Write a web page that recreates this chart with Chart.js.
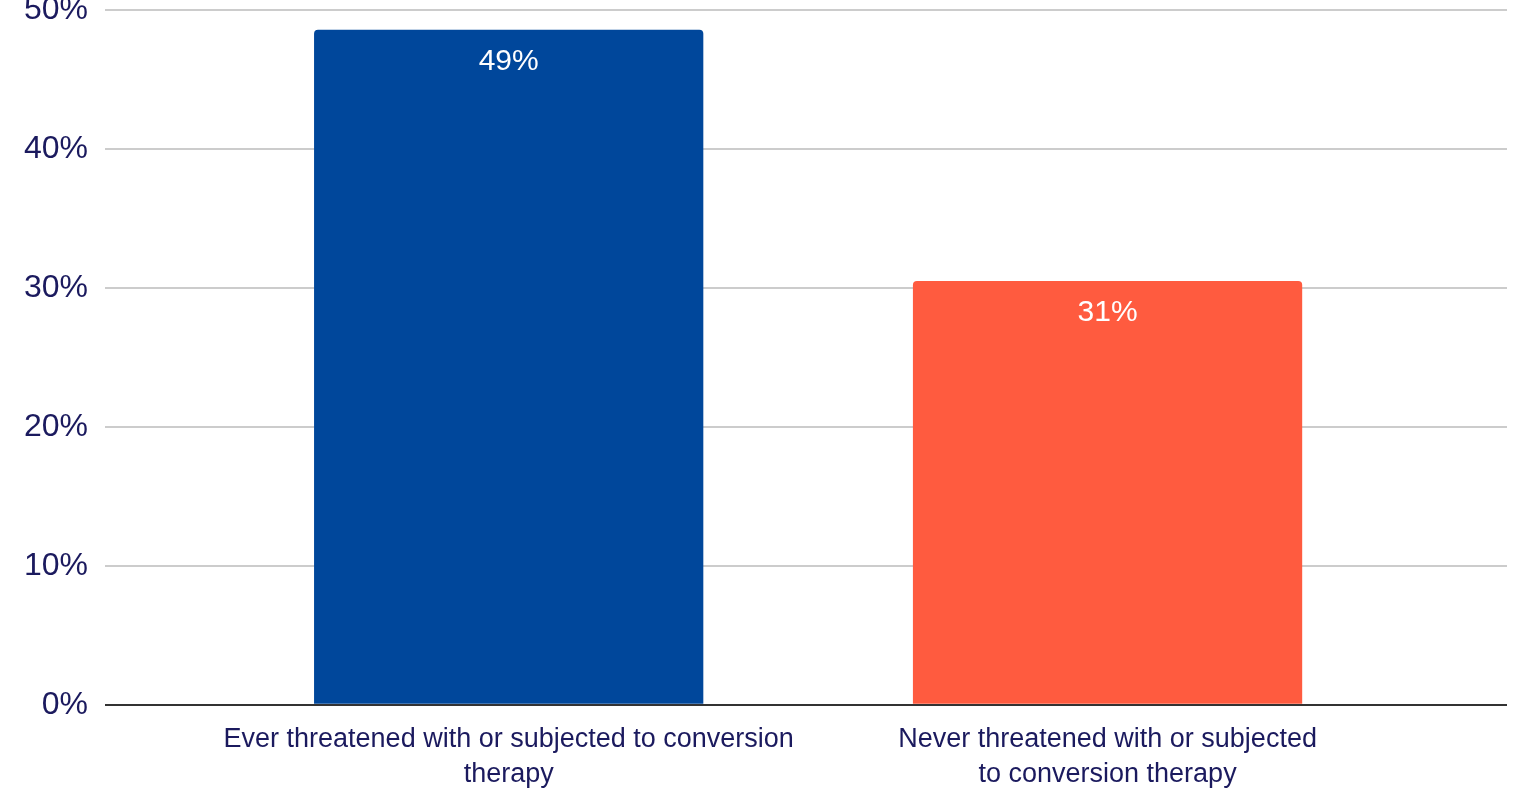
<!DOCTYPE html>
<html lang="en">
<head>
<meta charset="UTF-8">
<title>Conversion therapy</title>
<script src="https://cdn.jsdelivr.net/npm/chart.js"></script>
<style>
    body { margin: 0; padding: 0; background: #fff; overflow: hidden; }
    .wrap { position: absolute; left: 0; top: -26px; width: 1522px; height: 827px; }
</style>
</head>
<body>
<div class="wrap"><canvas id="chart"></canvas></div>
<script>
    // categories, wrapped as they appear under the bars
    const categories = [
        ['Ever threatened with or subjected to conversion', 'therapy'],
        ['Never threatened with or subjected', 'to conversion therapy']
    ];
    const values = [48.6, 30.5];
    const barColors = ['#00479b', '#ff5b3f'];
    const yTicks = [0, 10, 20, 30, 40, 50];

    const textColor = '#1b1a5e';

    // white percentage labels inside the top of each bar
    const barLabels = {
        id: 'barLabels',
        afterDatasetsDraw(chart) {
            const ctx = chart.ctx;
            const meta = chart.getDatasetMeta(0);
            ctx.save();
            ctx.fillStyle = '#ffffff';
            ctx.font = '30px "Liberation Sans", Arial, sans-serif';
            ctx.textAlign = 'center';
            ctx.textBaseline = 'middle';
            meta.data.forEach((bar, i) => {
                ctx.fillText(Math.round(values[i]) + '%', bar.x, bar.y + 32);
            });
            ctx.restore();
        }
    };

    new Chart(document.getElementById('chart'), {
        type: 'bar',
        data: {
            datasets: [{
                data: values.map((v, i) => ({ x: i, y: v })),
                backgroundColor: barColors,
                borderRadius: 4,
                categoryPercentage: 1,
                barPercentage: 0.65
            }]
        },
        options: {
            responsive: true,
            maintainAspectRatio: false,
            animation: false,
            layout: { padding: { left: 7, right: 15, top: 0, bottom: 0 } },
            plugins: { legend: { display: false }, tooltip: { enabled: false } },
            scales: {
                x: {
                    type: 'linear',
                    offset: false,
                    min: -0.674,
                    max: 1.667,
                    afterBuildTicks(scale) {
                        scale.ticks = categories.map((_, i) => ({ value: i }));
                    },
                    grid: { display: false },
                    border: { display: false },
                    ticks: {
                        color: textColor,
                        font: { family: '"Liberation Sans", Arial, sans-serif', size: 27, lineHeight: 1.3 },
                        padding: 9,
                        maxRotation: 0,
                        autoSkip: false,
                        callback: v => categories[v]
                    }
                },
                y: {
                    min: 0,
                    max: 50,
                    afterBuildTicks(scale) {
                        scale.ticks = yTicks.map(v => ({ value: v }));
                    },
                    border: { display: false },
                    grid: {
                        color: c => c.tick && c.tick.value === 0 ? '#333333' : '#cccccc',
                        lineWidth: 2,
                        drawTicks: false
                    },
                    ticks: {
                        color: textColor,
                        font: { family: '"Liberation Sans", Arial, sans-serif', size: 32 },
                        padding: 17,
                        callback: v => v + '%'
                    }
                }
            }
        },
        plugins: [barLabels]
    });
</script>
</body>
</html>
